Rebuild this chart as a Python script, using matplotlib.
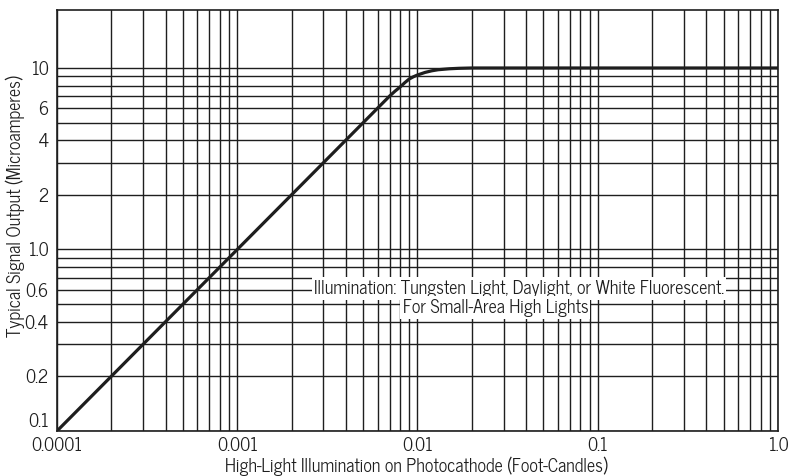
import matplotlib
matplotlib.use("Agg")
import matplotlib.pyplot as plt
from matplotlib.transforms import offset_copy

# ---- data ----
illum = [0.0001, 0.001, 0.005, 0.007, 0.0075, 0.008, 0.0085, 0.009, 0.0095, 0.01,
         0.011, 0.012, 0.013, 0.015, 0.017, 0.02, 0.05, 0.1, 1.0]
signal = [0.1, 1.0, 5.0, 7.0, 7.45, 7.85, 8.3, 8.7, 8.95, 9.15,
          9.45, 9.65, 9.78, 9.9, 9.96, 10.0, 10.0, 10.0, 10.0]

x_ticks = [0.0001, 0.001, 0.01, 0.1, 1.0]
x_ticklabels = ["0.0001", "0.001", "0.01", "0.1", "1.0"]
y_ticks = [0.1, 0.2, 0.4, 0.6, 1.0, 2, 4, 6, 10]
y_ticklabels = ["0.1", "0.2", "0.4", "0.6", "1.0", "2", "4", "6", "10"]

x_grid = [m * 10.0 ** e for e in (-4, -3, -2, -1) for m in range(1, 10)] + [1.0]
y_grid = [m * 10.0 ** e for e in (-1, 0) for m in range(1, 10)] + [10.0]

x_label = "High-Light Illumination on Photocathode (Foot-Candles)"
y_label = "Typical Signal Output (Microamperes)"
note1 = "Illumination: Tungsten Light, Daylight, or White Fluorescent."
note2 = "For Small-Area High Lights"

plt.rcParams["font.family"] = ["News Cycle", "DejaVu Sans"]
FS = 13

fig = plt.figure(figsize=(7.9, 4.76), dpi=100)
ax = fig.add_axes([57 / 790, 1 - 431 / 476, (778 - 57) / 790, (431 - 9.5) / 476])
ax.set_xscale("log")
ax.set_yscale("log")
ax.set_xlim(0.0001, 1.0)
ax.set_ylim(0.1, 21)

ink = "#1e1e1e"
for xv in x_grid:
    ax.axvline(xv, color=ink, lw=1.0, zorder=1)
for yv in y_grid:
    ax.axhline(yv, color=ink, lw=1.0, zorder=1)

ax.plot(illum, signal, color=ink, lw=2.3, solid_capstyle="round", zorder=3)

ax.set_xticks(x_ticks)
ax.set_xticklabels(x_ticklabels)
ax.set_yticks(y_ticks)
ax.set_yticklabels(y_ticklabels)
ax.minorticks_off()
ax.tick_params(length=0, labelsize=FS, colors=ink)
ax.tick_params(axis="x", pad=4)
ax.tick_params(axis="y", pad=6)
ax.get_yticklabels()[0].set_verticalalignment("bottom")
for s in ax.spines.values():
    s.set_color(ink)
    s.set_linewidth(1.2)

ax.set_xlabel(x_label, fontsize=FS, color=ink)
ax.xaxis.set_label_coords(0.499, -0.060)
ax.xaxis.label.set_verticalalignment("top")
ax.set_ylabel(y_label, fontsize=FS, color=ink)
ax.yaxis.set_label_coords(-0.044, 0.534)

bbox = dict(facecolor="white", edgecolor="none", pad=1.5)
ax.text(0.641, 0.338, note1, transform=ax.transAxes, ha="center", va="center",
        fontsize=FS, color=ink, bbox=bbox, zorder=4)
ax.text(0.608, 0.293, note2, transform=ax.transAxes, ha="center", va="center",
        fontsize=FS, color=ink, bbox=bbox, zorder=4)

fig.savefig("out.png", dpi=100)
